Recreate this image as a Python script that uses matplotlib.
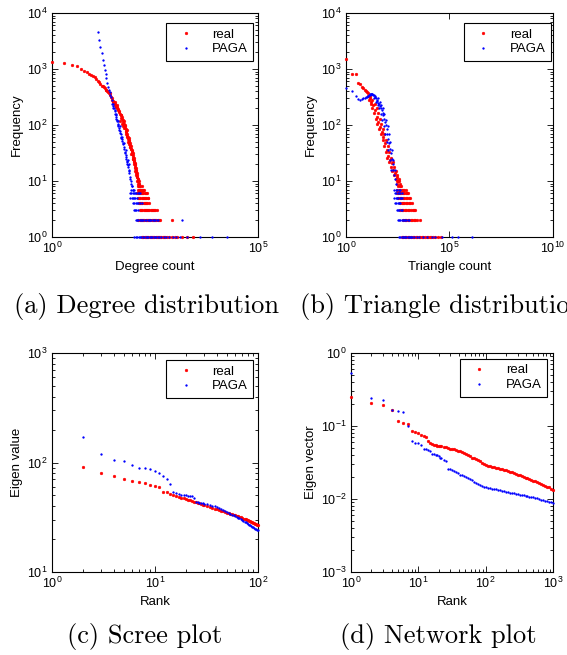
import matplotlib
matplotlib.use('Agg')
import matplotlib.pyplot as plt
from matplotlib.ticker import NullLocator, FixedLocator

plt.rcParams['font.family'] = ['Liberation Sans', 'DejaVu Sans']
plt.rcParams['font.size'] = 9

# ---- (a) degree distribution ----
real_deg = [1, 2, 3, 4, 5, 6, 7, 8, 9, 10,
            11, 12, 13, 14, 15, 16, 17, 18, 19, 20,
            21, 22, 23, 24, 25, 26, 27, 28, 29, 30,
            31, 32, 33, 34, 35, 36, 37, 38, 39, 40,
            42, 44, 46, 48, 50, 52, 54, 56, 58, 60,
            62, 64, 66, 68, 70, 72, 74, 76, 78, 80,
            83, 86, 89, 92, 95, 98, 101, 104, 107, 110,
            114, 118, 122, 126, 130,
            33, 37, 43, 47, 51, 55, 60, 63, 65, 69,
            75, 80, 84, 88, 90, 94, 97, 100, 103, 106,
            108, 112, 116, 120, 124, 128, 132, 135, 140, 145,
            45, 50, 53, 57, 62, 66, 70, 72, 77, 82,
            85, 87, 91, 96, 99, 102, 105, 111, 113, 117,
            121, 125, 127, 134, 150, 158]
real_freq = [1320, 1300, 1175, 1130, 1000, 920, 890, 830, 780, 740,
             710, 660, 620, 580, 540, 500, 490, 480, 450, 430,
             420, 410, 390, 380, 370, 340, 320, 300, 285, 270,
             260, 250, 240, 228, 222, 212, 207, 198, 190, 184,
             170, 155, 148, 136, 130, 122, 115, 105, 96, 90,
             78, 74, 68, 63, 56, 52, 49, 46, 44, 40,
             37, 34, 30, 27, 25, 22, 19, 18, 16, 15,
             13, 12, 10, 9, 8,
             260, 225, 175, 150, 140, 120, 100, 85, 80, 60,
             54, 47, 42, 36, 32, 29, 26, 23, 21, 20,
             17, 14, 14, 11, 11, 10, 9, 8, 7, 7,
             120, 105, 95, 88, 70, 62, 50, 58, 40, 38,
             30, 33, 25, 24, 20, 17, 15, 13, 12, 10,
             9, 8, 8, 7, 8, 7]
# low frequencies: degrees seen at frequency 1, 2, ... 7
tail_levels = [1, 2, 3, 4, 5, 6, 7]
real_deg_tail = [
    [150, 165, 180, 192, 205, 219, 234, 250, 267, 285, 305, 326, 348, 372, 398,
     425, 454, 485, 518, 550, 620, 700, 820, 966, 1100, 1410, 1860, 2690],
    [125, 133, 142, 152, 163, 174, 186, 199, 213, 228, 244, 261, 279, 298, 319,
     341, 365, 390, 417, 830],
    [137, 146, 156, 167, 178, 190, 203, 217, 232, 248, 265, 283, 302, 323, 347],
    [130, 138, 147, 157, 168, 180, 192, 205, 220],
    [123, 131, 140, 150, 160, 171, 183, 196, 210, 218],
    [114, 122, 130, 138, 147, 156, 166, 176, 188, 200],
    [125, 132, 140, 148, 155, 163, 170]]

paga_deg = [13, 14, 15, 16, 17, 18, 19, 20, 21, 22,
            23, 24, 25, 26, 27, 28, 30, 31, 32, 33,
            34, 35, 36, 37, 39, 41, 43, 45, 47, 49,
            52, 55, 58, 61, 63, 66, 68, 71, 74, 78,
            82, 86, 90,
            34, 36, 38, 40, 42, 44, 46, 48, 50, 53,
            57, 60, 64, 67, 70, 73, 76, 80, 84, 88,
            29, 31, 35, 39, 44, 51, 56, 62, 69, 75]
paga_freq = [4650, 3300, 2500, 1900, 1450, 1200, 960, 820, 680, 560,
             480, 430, 390, 340, 310, 280, 240, 215, 200, 186,
             175, 160, 140, 123, 105, 95, 82, 72, 62, 56,
             48, 40, 33, 29, 27, 23, 20, 18, 15, 12,
             10, 8, 7,
             160, 130, 118, 100, 88, 78, 68, 58, 52, 45,
             38, 32, 25, 22, 19, 16, 14, 11, 9, 8,
             240, 200, 150, 120, 95, 60, 47, 36, 24, 20]
paga_deg_tail = [
    [100, 108, 117, 126, 136, 147, 159, 172, 186, 201, 217, 234, 253, 273, 295,
     318, 343, 370, 400, 450, 520, 600, 700, 850, 1000, 1250, 1860, 3900, 7500, 17400],
    [107, 115, 124, 133, 143, 154, 166, 179, 193, 208, 224, 241, 260, 280, 302,
     325, 350, 380, 1410],
    [98, 104, 112, 120],
    [93, 100, 108, 116, 125, 135, 150],
    [80, 86, 92, 99, 106, 114],
    [78, 84, 90, 97, 104, 112, 120, 128, 137],
    [84, 90, 96]]

# ---- (b) triangle distribution ----
real_tri = [1, 2, 3, 4, 5, 6, 7, 8, 9, 10,
            12, 14, 17, 21, 25, 30, 36, 44, 53, 63,
            76, 93, 110, 134, 162, 194, 234, 282, 337, 400,
            12, 15, 13, 19, 16, 24, 19, 30, 23, 36,
            27, 42, 33, 50, 40, 60, 48, 72, 58, 88,
            70, 105, 84, 125, 100, 150, 125, 185, 150, 210,
            175, 250, 210, 290, 250, 350, 280, 380, 300, 420, 330, 470]
real_tri_freq = [1500, 800, 800, 570, 535, 480, 455, 430, 410, 393,
                 368, 300, 260, 230, 185, 140, 115, 93, 76, 62,
                 47, 36, 28, 24, 21, 16, 14, 12, 10, 8,
                 330, 330, 280, 280, 240, 240, 200, 200, 165, 165,
                 130, 130, 105, 105, 85, 85, 70, 70, 55, 55,
                 42, 42, 33, 33, 26, 26, 22, 22, 18, 18,
                 15, 15, 13, 13, 11, 11, 10, 10, 9, 9, 8, 8]
real_tri_tail = [
    [490, 580, 690, 820, 980, 1160, 1380, 1640, 1950, 2300, 2750, 3300, 3900, 4600,
     5500, 6600, 7900, 9400, 11200, 13500, 16000, 21000, 29000, 37000],
    [590, 700, 830, 980, 1160, 1380, 1630, 1930, 2250, 2570, 3720],
    [410, 490, 580, 690, 820, 980, 1160, 1380, 1640, 1900, 2140],
    [410, 480, 560, 660, 780, 920, 1080, 1270, 1480],
    [340, 400, 470, 550, 650, 760, 900, 1050, 1230],
    [282, 330, 390, 460, 540, 640, 750, 880, 1000],
    [300, 350, 410, 480, 560, 650, 760]]

paga_tri = [1, 2, 3, 4, 5, 6, 7, 8, 9, 10,
            11, 12, 13, 14, 15, 16, 17, 18, 19, 20,
            22, 24, 26, 28, 30, 33, 36, 40, 44, 48,
            53, 58, 63, 69, 76, 83, 91, 100, 110, 120,
            134, 147, 162, 178, 194, 213, 235, 258,
            22, 34, 28, 42, 34, 50, 38, 58, 47, 71,
            56, 84, 69, 103, 80, 120, 94, 140, 109, 163, 131, 197, 155, 233]
paga_tri_freq = [460, 400, 330, 290, 280, 290, 300, 305, 310, 320,
                 330, 335, 345, 350, 355, 360, 365, 360, 355, 350,
                 345, 335, 320, 300, 285, 270, 250, 235, 220, 200,
                 185, 165, 150, 130, 115, 100, 85, 70, 57, 48,
                 38, 31, 25, 20, 16, 13, 11, 9,
                 300, 300, 260, 260, 230, 230, 200, 200, 160, 160,
                 125, 125, 95, 95, 70, 70, 50, 50, 36, 36, 24, 24, 16, 16]
paga_tri_tail = [
    [370, 420, 480, 550, 630, 720, 820, 940, 1070, 1230, 1400, 1600, 2000, 2600,
     3500, 5000, 8000, 14000, 20000, 42000, 130000, 270000, 1200000],
    [324, 370, 420, 480, 550, 630, 720, 820, 940, 1100],
    [282, 330, 380, 430, 490],
    [234, 270, 310, 360, 410],
    [215, 250, 290, 335, 390, 450, 490],
    [234, 270, 310, 360, 410, 490],
    [220, 260, 300, 350, 400]]

# ---- (c) scree plot ----
rank_c = [2, 3, 4, 5, 6, 7, 8, 9, 10, 11,
          12, 13, 14, 15, 16, 17, 18, 19, 20, 21,
          22, 23, 24, 25, 26, 27, 28, 29, 30,
          32, 34, 36, 38, 40, 42, 44, 46, 48, 50,
          52, 54, 56, 58, 60, 62, 64, 66, 68, 70,
          72, 74, 76, 78, 80, 82, 84, 86, 88, 90,
          92, 94, 96, 98, 100]
real_eig = [91, 80.5, 75.5, 70.5, 68, 66.5, 65.5, 62.5, 61.5, 59.5,
            54, 53.5, 52, 50.8, 49.5, 48.2, 47.6, 47.0, 46.3, 45.8,
            45.2, 44.6, 44.0, 43.5, 43.0, 42.4, 41.9, 41.3, 40.8,
            40.0, 39.3, 38.7, 38.0, 37.4, 36.9, 36.3, 35.8, 35.3, 34.8,
            34.4, 34.0, 33.6, 33.2, 32.9, 32.5, 32.2, 31.8, 31.5, 31.2,
            30.8, 30.5, 30.2, 29.9, 29.6, 29.3, 29.0, 28.7, 28.4, 28.1,
            27.8, 27.5, 27.3, 27.0, 26.8]
paga_eig = [170, 120, 105, 103, 95.5, 90, 89, 87, 84, 81,
            75.5, 71, 63, 53.5, 52.5, 51.5, 51, 50.5, 50, 49.5,
            49.5, 49, 47.5, 44, 43.5, 43, 42.8, 42.5, 42.2,
            41.6, 41.0, 40.4, 39.8, 39.2, 38.5, 37.8, 37.0, 36.2, 35.5,
            34.8, 34.1, 33.5, 32.9, 32.4, 31.9, 31.4, 30.9, 30.4, 29.9,
            29.4, 28.9, 28.4, 27.9, 27.5, 27.1, 26.7, 26.3, 25.9, 25.5,
            25.2, 24.9, 24.6, 24.3, 24.0]

# ---- (d) network plot ----
rank_d = [1, 2, 3, 4, 5, 6, 7, 8, 9, 10,
          11, 12, 13, 14, 15, 16, 17, 18, 19,
          20, 21, 22, 24, 26, 28, 30, 32, 34, 36,
          39, 42, 45, 48, 51, 55, 59, 63, 67, 72,
          77, 82, 88, 94,
          100, 107, 115, 123, 132, 141, 151, 162, 173, 185,
          198, 212, 227, 243, 260, 278, 298, 319, 341, 365,
          391, 418, 447, 479, 512, 548, 587, 628, 672, 719,
          769, 823, 881, 943, 1000]
real_vec = [0.252, 0.205, 0.194, 0.166, 0.118, 0.109, 0.105, 0.086, 0.084, 0.081,
            0.075, 0.073, 0.070, 0.063, 0.058, 0.056, 0.055, 0.055, 0.054,
            0.054, 0.053, 0.053, 0.052, 0.051, 0.050, 0.049, 0.048, 0.048, 0.047,
            0.046, 0.045, 0.0445, 0.043, 0.042, 0.040, 0.039, 0.037, 0.036, 0.035,
            0.034, 0.033, 0.031, 0.030,
            0.029, 0.0286, 0.0282, 0.0278, 0.0273, 0.0268, 0.0264, 0.0259, 0.0255, 0.0250,
            0.0246, 0.0241, 0.0236, 0.0231, 0.0226, 0.0221, 0.0216, 0.0211, 0.0206, 0.0201,
            0.0196, 0.0192, 0.0187, 0.0183, 0.0179, 0.0174, 0.0170, 0.0165, 0.0161, 0.0157,
            0.0152, 0.0148, 0.0144, 0.0138, 0.0133]
paga_vec = [0.527, 0.244, 0.227, 0.166, 0.160, 0.154, 0.100, 0.062, 0.059, 0.058,
            0.055, 0.049, 0.048, 0.047, 0.046, 0.042, 0.041, 0.040, 0.040,
            0.039, 0.037, 0.036, 0.034, 0.033, 0.026, 0.0255, 0.025, 0.024, 0.0235,
            0.023, 0.0215, 0.021, 0.0205, 0.020, 0.0195, 0.019, 0.018, 0.0172, 0.0166,
            0.016, 0.0155, 0.015, 0.0147,
            0.0145, 0.0143, 0.0141, 0.0139, 0.0137, 0.0135, 0.0133, 0.0131, 0.0129, 0.0127,
            0.0126, 0.0124, 0.0122, 0.0121, 0.0119, 0.0118, 0.0116, 0.0115, 0.0113, 0.0112,
            0.0111, 0.0109, 0.0108, 0.0107, 0.0106, 0.0104, 0.0102, 0.0100, 0.0098, 0.0096,
            0.0094, 0.0093, 0.0091, 0.0090, 0.0089]

RED = '#ff0000'
BLUE = '#0000ff'
RED_MS = 2.0
BLUE_MS = 1.3


def new_axes(rect, xlim, ylim, xticks=None):
    ax = fig.add_axes(rect)
    ax.set_xscale('log')
    ax.set_yscale('log')
    ax.set_xlim(*xlim)
    ax.set_ylim(*ylim)
    if xticks is not None:
        ax.xaxis.set_major_locator(FixedLocator(xticks))
        ax.xaxis.set_minor_locator(NullLocator())
    return ax


def dots(ax, x, y, color, ms, label=None):
    ax.plot(x, y, linestyle='none', marker='o', ms=ms, mfc=color, mec=color,
            mew=0.3, clip_on=False, zorder=3, label=label)


def style(ax, xlabel, ylabel, legend_xy):
    ax.set_xlabel(xlabel, labelpad=3, fontsize=9.5)
    ax.set_ylabel(ylabel, labelpad=3, fontsize=9.5)
    ax.tick_params(which='both', direction='in', top=True, right=True,
                   width=0.6, labelsize=9)
    ax.tick_params(which='major', length=4, pad=3)
    ax.tick_params(which='minor', length=2)
    for s in ax.spines.values():
        s.set_linewidth(0.8)
    leg = ax.legend(loc='upper right', bbox_to_anchor=legend_xy, borderaxespad=0,
                    fancybox=False, framealpha=1, edgecolor='black', fontsize=9.5,
                    handlelength=2.2, handletextpad=0.9, borderpad=0.4,
                    labelspacing=0.2, markerscale=1.0)
    leg.get_frame().set_linewidth(0.8)


fig = plt.figure(figsize=(5.67, 6.55), dpi=100)

# (a)
ax = new_axes([52/567, 1 - 237/655, 206/567, 224/655], (1, 1e5), (1, 1e4), [1, 1e5])
dots(ax, real_deg, real_freq, RED, RED_MS, 'real')
for lev, xs in zip(tail_levels, real_deg_tail):
    dots(ax, xs, [lev] * len(xs), RED, RED_MS)
dots(ax, paga_deg, paga_freq, BLUE, BLUE_MS, 'PAGA')
for lev, xs in zip(tail_levels, paga_deg_tail):
    dots(ax, xs, [lev] * len(xs), BLUE, BLUE_MS)
style(ax, 'Degree count', 'Frequency', (0.976, 0.955))

# (b)
ax = new_axes([346/567, 1 - 237/655, 207/567, 224/655], (1, 1e10), (1, 1e4), [1, 1e5, 1e10])
dots(ax, real_tri, real_tri_freq, RED, RED_MS, 'real')
for lev, xs in zip(tail_levels, real_tri_tail):
    dots(ax, xs, [lev] * len(xs), RED, RED_MS)
dots(ax, paga_tri, paga_tri_freq, BLUE, BLUE_MS, 'PAGA')
for lev, xs in zip(tail_levels, paga_tri_tail):
    dots(ax, xs, [lev] * len(xs), BLUE, BLUE_MS)
style(ax, 'Triangle count', 'Frequency', (0.99, 0.955))

# (c)
ax = new_axes([52/567, 1 - 572/655, 206/567, 219/655], (1, 100), (10, 1000))
dots(ax, rank_c, real_eig, RED, RED_MS, 'real')
dots(ax, rank_c, paga_eig, BLUE, BLUE_MS, 'PAGA')
style(ax, 'Rank', 'Eigen value', (0.976, 0.968))

# (d)
ax = new_axes([351/567, 1 - 572/655, 202/567, 219/655], (1, 1000), (1e-3, 1))
dots(ax, rank_d, real_vec, RED, RED_MS, 'real')
dots(ax, rank_d, paga_vec, BLUE, BLUE_MS, 'PAGA')
style(ax, 'Rank', 'Eigen vector', (0.97, 0.973))

# captions
cap = dict(family='cmr10', fontsize=19, va='center')
fig.text(146/567, 1 - 306/655, '(a) Degree distribution', ha='center', **cap)
fig.text(300/567, 1 - 306/655, '(b) Triangle distribution', ha='left', **cap)
fig.text(145/567, 1 - 636/655, '(c) Scree plot', ha='center', **cap)
fig.text(438/567, 1 - 636/655, '(d) Network plot', ha='center', **cap)

fig.savefig('out.png', dpi=100)
